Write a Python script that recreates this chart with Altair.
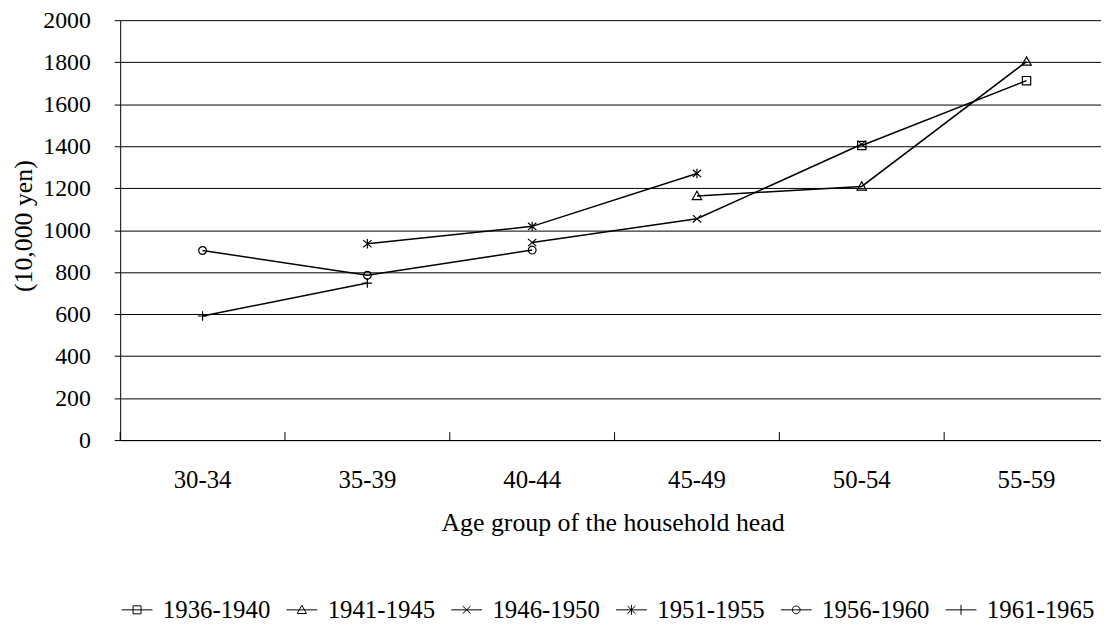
import altair as alt
import pandas as pd

# ---------------- data ----------------
ages = ["30-34", "35-39", "40-44", "45-49", "50-54", "55-59"]
series_names = ["1936-1940", "1941-1945", "1946-1950", "1951-1955", "1956-1960", "1961-1965"]
s1936 = [None, None, None, None, 1403, 1712]
s1941 = [None, None, None, 1163, 1208, 1803]
s1946 = [None, None, 941, 1054, 1409, None]
s1951 = [None, 935, 1018, 1270, None, None]
s1956 = [903, 785, 905, None, None, None]
s1961 = [591, 748, None, None, None, None]
y_ticks = [0, 200, 400, 600, 800, 1000, 1200, 1400, 1600, 1800, 2000]

all_series = [s1936, s1941, s1946, s1951, s1956, s1961]
rows = []
for name, vals in zip(series_names, all_series):
    for age, v in zip(ages, vals):
        if v is not None:
            rows.append({"series": name, "age": age, "value": v})
df = pd.DataFrame(rows)
cats = pd.DataFrame({"age": ages})

# marker shapes (chart) and legend symbols (line + marker)
marker_paths = [
    "M-0.8,-0.8H0.8V0.8H-0.8Z",
    "M0,-0.9L0.9,0.7H-0.9Z",
    "M-0.8,-0.7L0.8,0.7M-0.8,0.7L0.8,-0.7",
    "M-0.8,-0.7L0.8,0.7M-0.8,0.7L0.8,-0.7M0,-0.9V0.9",
    "M0.75,0A0.75,0.75,0,1,1,-0.75,0A0.75,0.75,0,1,1,0.75,0Z",
    "M-0.9,0H0.9M0,-0.9V0.9",
]
legend_paths = [
    "M-1,0H1M-0.26,-0.26H0.26V0.26H-0.26Z",
    "M-1,0H1M0,-0.3L0.3,0.24H-0.3Z",
    "M-1,0H1M-0.26,-0.25L0.26,0.25M-0.26,0.25L0.26,-0.25",
    "M-1,0H1M-0.26,-0.25L0.26,0.25M-0.26,0.25L0.26,-0.25M0,-0.32V0.32",
    "M-1,0H1M0.25,0A0.25,0.25,0,1,1,-0.25,0A0.25,0.25,0,1,1,0.25,0Z",
    "M-1,0H1M0,-0.32V0.32",
]

FONT = "Liberation Serif"
W, H = 988, 423


def xenc(band_pos):
    return alt.X(
        "age:O",
        sort=ages,
        bandPosition=band_pos,
        scale=alt.Scale(type="band", domain=ages, range=[0, 996], paddingInner=0, paddingOuter=0),
        axis=alt.Axis(
            title="Age group of the household head",
            labelAngle=0,
            ticks=False,
            grid=False,
            labelPadding=28,
            labelFontSize=25,
            labelFont=FONT,
            titleFont=FONT,
            titleFontSize=26,
            titleFontWeight="normal",
            titleY=91,
            titleX=496,
            titleBaseline="alphabetic",
        ),
    )


yenc = alt.Y(
    "value:Q",
    scale=alt.Scale(domain=[0, 2000], nice=False),
    axis=alt.Axis(
        values=y_ticks,
        format="d",
        grid=True,
        gridColor="black",
        gridWidth=1,
        tickSize=6,
        labelPadding=24,
        labelFontSize=24,
        labelFont=FONT,
        titleFont=FONT,
        title="(10,000 yen)",
        titleFontSize=26,
        titleFontWeight="normal",
        titleAngle=270,
        titleX=-89,
        titleY=207,
        titleAlign="center",
        titleBaseline="alphabetic",
    ),
)

lines = alt.Chart(df).mark_line(color="black", strokeWidth=1.5).encode(
    x=xenc(0.5), y=yenc, detail="series:N"
)

points = alt.Chart(df).mark_point(
    filled=False, color="black", strokeWidth=1.2, size=110, opacity=1
).encode(
    x=xenc(0.5),
    y=yenc,
    shape=alt.Shape("series:N", scale=alt.Scale(domain=series_names, range=marker_paths), legend=None),
)

ticks = alt.Chart(cats).mark_rule(color="black", strokeWidth=1).encode(
    x=xenc(0), y=alt.value(H - 8), y2=alt.value(H)
)

legend_layer = alt.Chart(df).transform_filter("false").mark_point(
    filled=False, color="black", strokeWidth=1, opacity=1
).encode(
    shape=alt.Shape(
        "series:N",
        scale=alt.Scale(domain=series_names, range=legend_paths),
        legend=alt.Legend(
            title=None,
            orient="none",
            legendX=1,
            legendY=578,
            direction="horizontal",
            columns=6,
            columnPadding=13,
            labelOffset=10,
            labelFontSize=25,
            labelFont=FONT,
            labelColor="black",
            symbolSize=961,
            symbolStrokeWidth=1,
            symbolStrokeColor="black",
            symbolFillColor="transparent",
            padding=0,
        ),
    )
)

chart = (
    alt.layer(lines, points, ticks, legend_layer)
    .resolve_scale(shape="independent")
    .properties(
        width=W,
        height=H,
        background="white",
        autosize=alt.AutoSizeParams(type="none"),
        padding={"left": 113, "top": 10, "right": 0, "bottom": 184},
    )
    .configure_view(stroke=None)
    .configure_axis(
        labelFont=FONT,
        titleFont=FONT,
        labelColor="black",
        titleColor="black",
        domainColor="black",
        tickColor="black",
        domainWidth=1,
        tickWidth=1,
    )
)

chart.save("out.html", embed_options={"renderer": "svg", "actions": False})
